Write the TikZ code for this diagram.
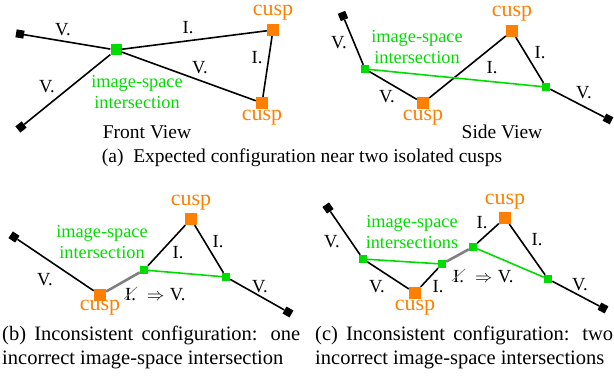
\documentclass[tikz,border=0pt]{standalone}
\usepackage{fontspec}
\setmainfont{Liberation Serif}
\definecolor{cuspcol}{RGB}{255,128,0}
\definecolor{isecol}{RGB}{0,220,0}

\begin{document}
\begin{tikzpicture}[x = 1pt, y = -1pt,
	endsq/.style = {fill = black, inner sep = 0, minimum size = 8pt, rotate = #1},
	cuspsq/.style = {fill = cuspcol, inner sep = 0, minimum size = 12pt},
	isesq/.style = {fill = isecol, inner sep = 0, minimum size = #1},
	isesq/.default = 8pt,
	edge/.style = {line width = 1.6pt},
	isedge/.style = {line width = 1.6pt, isecol},
	badedge/.style = {line width = 2.6pt, gray},
	strike/.style = {gray, line width = 0.8pt},
	lbl/.style = {inner sep = 0, font = \fontsize{18.5}{18.5}\selectfont},
	cusplbl/.style = {inner sep = 0, text = cuspcol, font = \fontsize{22}{22}\selectfont},
	iselbl/.style = {inner sep = 0, text = isecol, align = center, font = \fontsize{18.3}{20.5}\selectfont},
	captext/.style = {inner sep = 0, font = \fontsize{19.5}{24}\selectfont},
	subcap/.style = {inner sep = 0, anchor = north west, text width = 298pt, align = justify,
		font = \fontsize{20.5}{24}\selectfont}]

	\useasboundingbox (0, 0) rectangle (614, 379);

	% Front view

	\node [endsq = -9.5] (e1) at (20, 34) {};
	\node [endsq = 39] (e2) at (21, 127) {};
	\node [isesq = 11pt] (x1) at (116, 50) {};
	\node [cuspsq] (c1) at (273, 30) {};
	\node [cuspsq] (c2) at (262, 103) {};

	\draw [edge] (e1) -- (x1);
	\draw [edge] (e2) -- (x1);
	\draw [edge] (x1) -- (c1);
	\draw [edge] (c1) -- (c2);
	\draw [edge] (x1) -- (c2);

	\node [lbl] (fv1) at (63, 30) {V.};
	\node [lbl] (fv2) at (47, 87) {V.};
	\node [lbl] (fv3) at (200, 68) {V.};
	\node [lbl] (fi1) at (188, 28) {I.};
	\node [lbl] (fi2) at (257, 58) {I.};
	\node [iselbl] (fx) at (137, 92) {image-space\\intersection};
	\node [cusplbl] (fc1) at (273, 13) {cusp};
	\node [cusplbl] (fc2) at (262, 118) {cusp};
	\node [captext] (fview) at (147, 132) {Front View};

	% Side view

	\node [endsq = 22.5] (e3) at (343, 16) {};
	\node [isesq] (x2) at (365, 69) {};
	\node [cuspsq] (c3) at (423, 103) {};
	\node [cuspsq] (c4) at (512, 31) {};
	\node [isesq] (x3) at (546, 87) {};
	\node [endsq = -27] (e4) at (608, 119) {};

	\draw [edge] (e3) -- (x2);
	\draw [edge] (x2) -- (c3);
	\draw [edge] (c3) -- (c4);
	\draw [edge] (c4) -- (x3);
	\draw [edge] (x3) -- (e4);
	\draw [isedge] (x2) -- (x3);

	\node [lbl] (sv1) at (339, 43) {V.};
	\node [lbl] (sv2) at (387, 97) {V.};
	\node [lbl] (sv3) at (584, 93) {V.};
	\node [lbl] (si1) at (492, 68) {I.};
	\node [lbl] (si2) at (540, 53) {I.};
	\node [iselbl] (sx) at (417, 47) {image-space\\intersection};
	\node [cusplbl] (sc1) at (423, 118) {cusp};
	\node [cusplbl] (sc2) at (512, 14) {cusp};
	\node [captext] (sview) at (502, 132) {Side View};

	\node [captext] (capa) at (302, 158) {(a)\hspace{0.5em}Expected configuration near two isolated cusps};

	% One wrong intersection

	\node [endsq = -34] (e5) at (14, 237) {};
	\node [cuspsq] (c5) at (100, 295) {};
	\node [isesq] (x4) at (144, 270) {};
	\node [cuspsq] (c6) at (191, 219) {};
	\node [isesq] (x5) at (226, 277) {};
	\node [endsq = -29.5] (e6) at (288, 312) {};

	\draw [edge] (e5) -- (c5);
	\draw [badedge] (c5) -- (x4);
	\draw [edge] (x4) -- (c6);
	\draw [edge] (c6) -- (x5);
	\draw [edge] (x5) -- (e6);
	\draw [isedge] (x4) -- (x5);

	\node [lbl] (bv1) at (45, 280) {V.};
	\node [lbl] (bv2) at (260, 287) {V.};
	\node [lbl] (bi1) at (178, 253) {I.};
	\node [lbl] (bi2) at (218, 242) {I.};
	\node [lbl, anchor = west] (bswap) at (125, 295) {I.\hspace{0.6em}$\Rightarrow$\hspace{0.3em}V.};
	\draw [strike] ([shift = {(-1, 4)}] bswap.west) -- ++(13, -12);
	\node [iselbl] (bx) at (102, 242) {image-space\\intersection};
	\node [cusplbl] (bc1) at (100, 308) {cusp};
	\node [cusplbl] (bc2) at (191, 203) {cusp};

	\node [subcap] (capb) at (2, 326)
		{(b) Inconsistent configuration: one\linebreak incorrect image-space intersection};

	% Two wrong intersections

	\node [endsq = 34.5] (e7) at (328, 208) {};
	\node [isesq] (x6) at (363, 259) {};
	\node [cuspsq] (c7) at (415, 293) {};
	\node [isesq] (x7) at (442, 264) {};
	\node [isesq] (x8) at (473, 247) {};
	\node [cuspsq] (c8) at (505, 218) {};
	\node [isesq] (x9) at (548, 279) {};
	\node [endsq = -28] (e8) at (603, 308) {};

	\draw [edge] (e7) -- (x6);
	\draw [edge] (x6) -- (c7);
	\draw [edge] (c7) -- (x7);
	\draw [badedge] (x7) -- (x8);
	\draw [edge] (x8) -- (c8);
	\draw [edge] (c8) -- (x9);
	\draw [edge] (x9) -- (e8);
	\draw [isedge] (x6) -- (x7);
	\draw [isedge] (x8) -- (x9);

	\node [lbl] (cv1) at (332, 242) {V.};
	\node [lbl] (cv2) at (377, 287) {V.};
	\node [lbl] (cv3) at (580, 285) {V.};
	\node [lbl] (ci1) at (438, 287) {I.};
	\node [lbl] (ci2) at (482, 223) {I.};
	\node [lbl] (ci3) at (537, 240) {I.};
	\node [lbl, anchor = west] (cswap) at (453, 277) {I.\hspace{0.6em}$\Rightarrow$\hspace{0.3em}V.};
	\draw [strike] ([shift = {(-1, 4)}] cswap.west) -- ++(13, -12);
	\node [iselbl] (cx) at (412, 232) {image-space\\intersections};
	\node [cusplbl] (cc1) at (415, 308) {cusp};
	\node [cusplbl] (cc2) at (505, 202) {cusp};

	\node [subcap] (capc) at (315, 326)
		{(c) Inconsistent configuration: two\linebreak incorrect image-space intersections};

\end{tikzpicture}
\end{document}
